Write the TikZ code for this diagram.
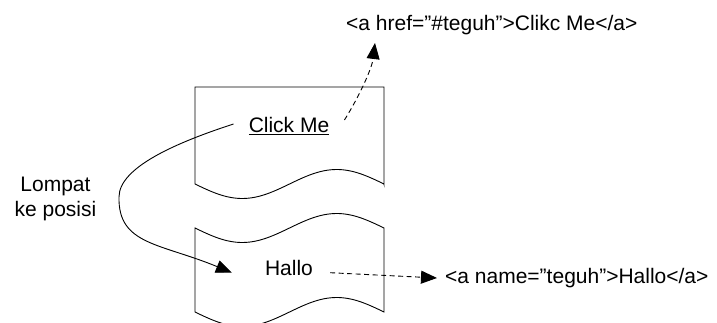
\documentclass[tikz,border=0pt]{standalone}
\usepackage{fontspec}
\setmainfont{Liberation Sans}
\usetikzlibrary{arrows.meta,calc}
\begin{document}
\begin{tikzpicture}[x=1pt,y=-1pt,
  every node/.style={inner sep=0pt, font=\fontsize{21}{24.5}\selectfont},
  page/.style={draw=black, line width=0.9pt, fill=white},
  link/.style={line width=0.9pt, -{Triangle[length=16pt,width=13pt]}},
  jump/.style={link},
  ref/.style={link, dash pattern=on 5pt off 3.5pt},
]
\useasboundingbox (0,0) rectangle (717,323);

% upper page: straight top, wavy bottom edge
\draw[page] (384,184) -- (384,87) -- (195,87)
  -- plot[domain=0:189,samples=60,smooth] ({195+\x},{184+14.5*sin(\x/189*360)}) -- cycle;

% lower page: wavy top and bottom edges
\draw[page] plot[domain=0:189,samples=60,smooth] ({195+\x},{228+14.5*sin(\x/189*360)})
  -- (384,312)
  -- plot[domain=189:0,samples=60,smooth] ({195+\x},{312+14.5*sin(\x/189*360)}) -- cycle;

% texts
\node[anchor=base] (cm) at (289,133) {\underline{Click Me}};
\node[anchor=base] (hallo) at (289,275.7) {Hallo};
\node[anchor=base west] (href) at (346,31) {<a href=”\#teguh”>Clikc Me</a>};
\node[anchor=base west] (aname) at (445,283) {<a name=”teguh”>Hallo</a>};
\node[align=center] (lompat) at (55.5,199) {Lompat\\ke posisi};

% jump from the link to its target
\draw[jump] ($(cm.base west)+(-15,-9)$) .. controls (178,142) and (119,167) .. (119,197)
  .. controls (118,245) and (160,243) .. ($(hallo.base west)+(-33,-3)$);

% link source and anchor markup
\draw[ref] ($(cm.base east)+(15,-13)$) .. controls (360,95) and (372,68) .. ($(href.base west)+(29,12)$);
\draw[ref] ($(hallo.base east)+(17,-3)$) -- ($(aname.base west)+(-8,-5)$);
\end{tikzpicture}
\end{document}
